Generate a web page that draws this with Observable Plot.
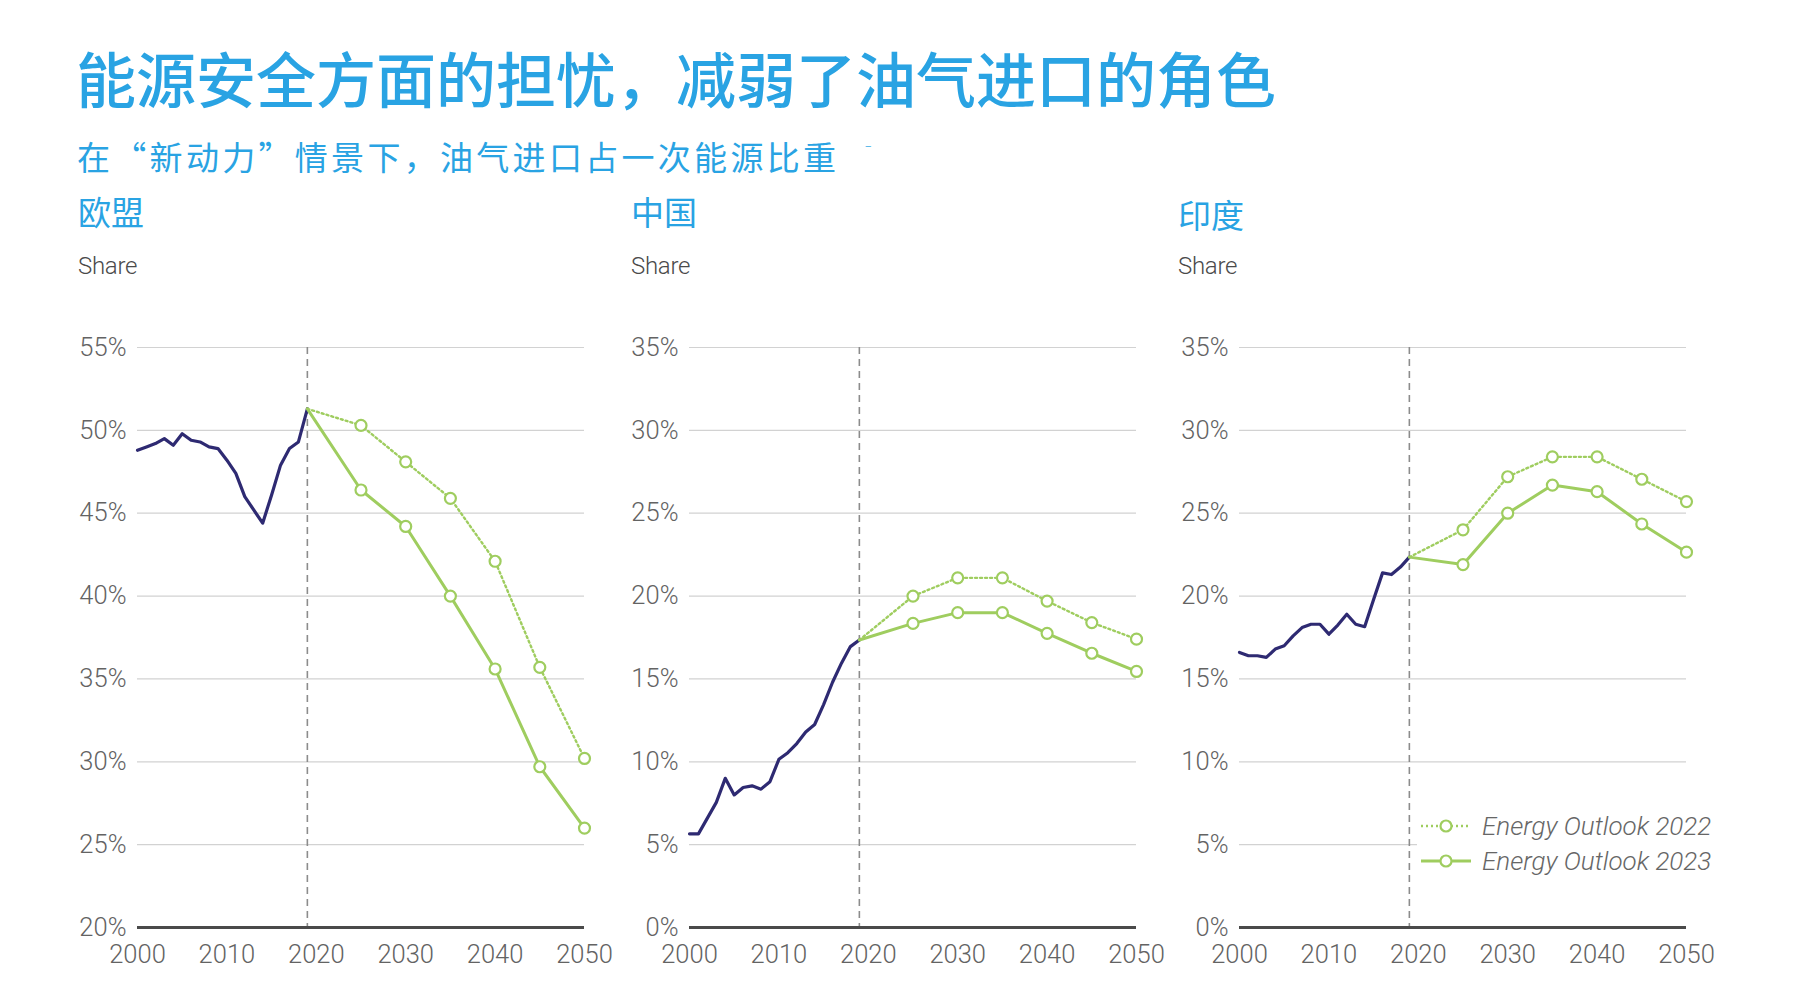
<!DOCTYPE html>
<html lang="zh-CN">
<head>
<meta charset="utf-8">
<script src="https://cdn.jsdelivr.net/npm/d3@7"></script>
<script src="https://cdn.jsdelivr.net/npm/@observablehq/plot@0.6"></script>
<style>
  html, body { margin: 0; padding: 0; background: #ffffff; }
  #page { position: relative; width: 1813px; height: 1004px; overflow: hidden; background: #fff; }
  .title { position: absolute; left: 76px; top: 47px; font-family: "Noto Sans CJK SC", sans-serif; font-weight: 500; font-size: 60px; line-height: 60px; color: #29a3e3; white-space: nowrap; }
  .subtitle { position: absolute; left: 77px; top: 140px; font-family: "Noto Sans CJK SC", sans-serif; font-weight: 400; font-size: 33px; line-height: 33px; letter-spacing: 3.3px; color: #29a3e3; white-space: nowrap; }
  .subtitle .mark { font-size: 14px; vertical-align: top; margin-left: 22px; position: relative; top: -6px; }
  .ptitle { position: absolute; top: 195px; font-family: "Noto Sans CJK SC", sans-serif; font-weight: 400; font-size: 33px; line-height: 33px; color: #29a3e3; white-space: nowrap; }
  .share { position: absolute; top: 254px; font-family: Roboto, "Liberation Sans", sans-serif; font-weight: 300; font-size: 24px; line-height: 24px; color: #4a4a4a; letter-spacing: -0.3px; }
  .legend { position: absolute; left: 1417px; top: 808px; width: 320px; height: 72px; background: #fff; font-family: Roboto, "Liberation Sans", sans-serif; font-style: italic; font-weight: 300; font-size: 26px; color: #666; }
  .legend .row { position: absolute; left: 0; height: 36px; display: flex; align-items: center; }
  .legend svg { margin-right: 9px; }
</style>
</head>
<body>
<div id="page">
  <div class="title">能源安全方面的担忧，减弱了油气进口的角色</div>
  <div class="subtitle">在“新动力”情景下，油气进口占一次能源比重<span class="mark">ˉ</span></div>
</div>
<script>
// ---------- data ----------
const panelNames = ["欧盟", "中国", "印度"];
const shareLabel = "Share";
const histYears = [2000, 2001, 2002, 2003, 2004, 2005, 2006, 2007, 2008, 2009,
                   2010, 2011, 2012, 2013, 2014, 2015, 2016, 2017, 2018, 2019];
const projYears = [2019, 2025, 2030, 2035, 2040, 2045, 2050];
const xTicks = [2000, 2010, 2020, 2030, 2040, 2050];
const dividerYear = [2019];

const euHist = [48.8, 49.0, 49.2, 49.5, 49.1, 49.8, 49.4, 49.3, 49.0, 48.9,
                48.2, 47.4, 46.0, 45.2, 44.4, 46.1, 47.9, 48.9, 49.3, 51.3];
const eu2022 = [51.3, 50.3, 48.1, 45.9, 42.1, 35.7, 30.2];
const eu2023 = [51.3, 46.4, 44.2, 40.0, 35.6, 29.7, 26.0];

const cnHist = [5.65, 5.65, 6.6, 7.55, 9.0, 8.0, 8.45, 8.55, 8.35, 8.8,
                10.15, 10.55, 11.1, 11.8, 12.25, 13.45, 14.8, 15.95, 16.95, 17.35];
const cn2022 = [17.35, 20.0, 21.1, 21.1, 19.7, 18.4, 17.4];
const cn2023 = [17.35, 18.35, 19.0, 19.0, 17.75, 16.55, 15.45];

const inHist = [16.6, 16.4, 16.4, 16.3, 16.8, 17.0, 17.6, 18.1, 18.3, 18.3,
                17.7, 18.25, 18.9, 18.3, 18.15, 19.8, 21.4, 21.3, 21.75, 22.35];
const in2022 = [22.35, 24.0, 27.2, 28.4, 28.4, 27.05, 25.7];
const in2023 = [22.35, 21.9, 25.0, 26.7, 26.3, 24.35, 22.65];

const yTicksEU = [20, 25, 30, 35, 40, 45, 50, 55];
const yTicksAsia = [0, 5, 10, 15, 20, 25, 30, 35];

const legendLabels = ["Energy Outlook 2022", "Energy Outlook 2023"];

// ---------- style ----------
const navy = "#2e2a72";
const green = "#9fcd5f";
const gridColor = "#d2d2d2";
const tickColor = "#636363";

const panels = [
  {name: panelNames[0], hist: euHist, p22: eu2022, p23: eu2023, yticks: yTicksEU, plotLeft: 137, titleLeft: 78},
  {name: panelNames[1], hist: cnHist, p22: cn2022, p23: cn2023, yticks: yTicksAsia, plotLeft: 689, titleLeft: 631},
  {name: panelNames[2], hist: inHist, p22: in2022, p23: in2023, yticks: yTicksAsia, plotLeft: 1239, titleLeft: 1178}
];

const page = document.getElementById("page");
const mL = 80, mR = 20, mT = 20, mB = 50, plotW = 447, plotH = 580;

panels.forEach((p, i) => {
  const t = document.createElement("div");
  t.className = "ptitle";
  t.style.left = p.titleLeft + "px";
  if (i === 2) t.style.top = "198px";
  t.textContent = p.name;
  page.appendChild(t);

  const s = document.createElement("div");
  s.className = "share";
  s.style.left = p.titleLeft + "px";
  s.textContent = shareLabel;
  page.appendChild(s);

  const hist = histYears.map((y, k) => ({year: y, v: p.hist[k]}));
  const p22 = projYears.map((y, k) => ({year: y, v: p.p22[k]}));
  const p23 = projYears.map((y, k) => ({year: y, v: p.p23[k]}));
  const ymin = p.yticks[0], ymax = p.yticks[p.yticks.length - 1];

  const chart = Plot.plot({
    width: mL + plotW + mR,
    height: mT + plotH + mB,
    marginLeft: mL, marginRight: mR, marginTop: mT, marginBottom: mB,
    style: {fontFamily: "Roboto, 'Liberation Sans', sans-serif", fontWeight: 300, fontSize: "25.5px", color: tickColor, background: "transparent", overflow: "visible"},
    x: {domain: [2000, 2050], ticks: xTicks, tickFormat: d3.format("d"), tickSize: 0, tickPadding: 17, label: null},
    y: {domain: [ymin, ymax], ticks: p.yticks, tickFormat: d => d + "%", tickSize: 0, tickPadding: 11, label: null},
    marks: [
      Plot.ruleY(p.yticks.slice(1), {stroke: gridColor, strokeWidth: 1.2}),
      Plot.ruleX(dividerYear, {stroke: "#8c8c8c", strokeWidth: 1.6, strokeDasharray: "7,5"}),
      Plot.ruleY([ymin], {stroke: "#4a4a4a", strokeWidth: 3}),
      Plot.line(hist, {x: "year", y: "v", stroke: navy, strokeWidth: 3.2}),
      Plot.line(p22, {x: "year", y: "v", stroke: green, strokeWidth: 2.4, strokeDasharray: "2,3"}),
      Plot.line(p23, {x: "year", y: "v", stroke: green, strokeWidth: 3}),
      Plot.dot(p22.slice(1), {x: "year", y: "v", r: 5.5, fill: "white", stroke: green, strokeWidth: 2.2}),
      Plot.dot(p23.slice(1), {x: "year", y: "v", r: 5.5, fill: "white", stroke: green, strokeWidth: 2.2})
    ]
  });
  chart.style.position = "absolute";
  chart.style.left = (p.plotLeft - mL) + "px";
  chart.style.top = (347 - mT) + "px";
  page.appendChild(chart);
});

// legend
const legend = document.createElement("div");
legend.className = "legend";
legendLabels.forEach((lab, k) => {
  const row = document.createElement("div");
  row.className = "row";
  row.style.top = (k * 35) + "px";
  const dash = k === 0 ? "2,3" : "none";
  const sw = k === 0 ? 2.4 : 3;
  row.innerHTML = `<svg width="56" height="36" style="overflow:visible">
      <line x1="4" x2="54" y1="18" y2="18" stroke="${green}" stroke-width="${sw}" stroke-dasharray="${dash}"/>
      <circle cx="29" cy="18" r="5.5" fill="white" stroke="${green}" stroke-width="2.2"/>
    </svg><span>${lab}</span>`;
  legend.appendChild(row);
});
page.appendChild(legend);
</script>
</body>
</html>
